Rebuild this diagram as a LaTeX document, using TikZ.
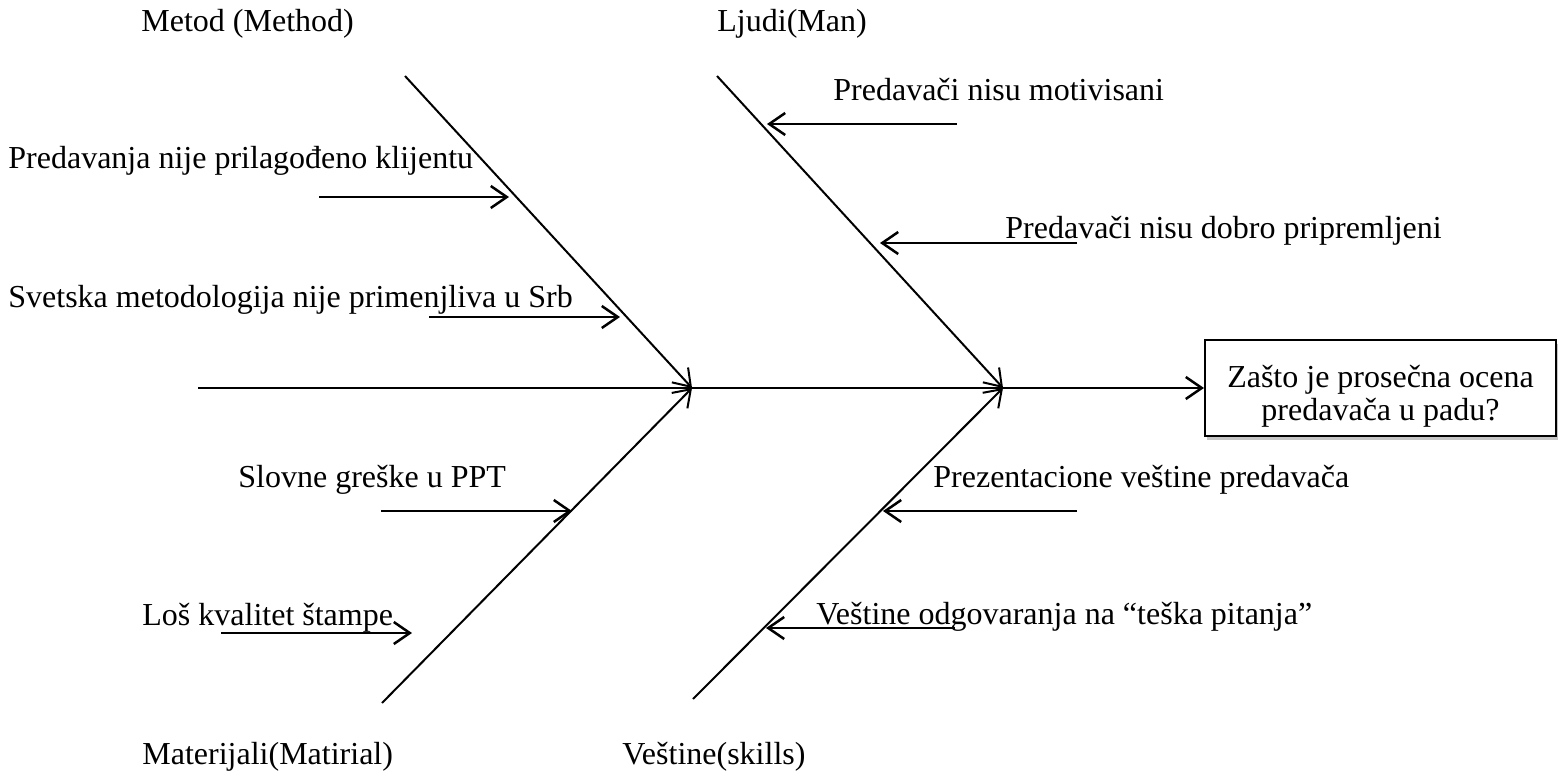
\documentclass[tikz,border=0pt]{standalone}
\usepackage{fontspec}
\setmainfont{Liberation Serif}
\usetikzlibrary{arrows.meta,shadows}

\begin{document}
\begin{tikzpicture}[x=0.5pt,y=-0.5pt,
    every node/.style={inner sep=0pt,anchor=base west,font=\fontsize{16}{16.5}\selectfont},
    bone/.style={line width=1pt,-{Straight Barb[length=8pt,width=11pt]}},
    cause/.style={line width=1.25pt,-{Straight Barb[length=8pt,width=11pt]}}]
  \useasboundingbox (0,0) rectangle (1559,771);

  %% effect box at the head of the fish
  \node[draw,line width=1pt,fill=white,anchor=center,align=center,
        drop shadow={shadow xshift=1pt,shadow yshift=-2pt,fill=black!45},
        minimum width=175.5pt,inner ysep=0pt,text height=40pt,text depth=8pt]
        (effect) at (1380.5,388) {Zašto je prosečna ocena\\predavača u padu?};

  %% spine and the four bones
  \coordinate (tail) at (198,388);
  \coordinate (jl) at (692,388);
  \coordinate (jr) at (1003,388);
  \coordinate (metod) at (405,76);
  \coordinate (ljudi) at (717,76);
  \coordinate (mater) at (382,703);
  \coordinate (vest) at (693,699);
  \draw[cause] (tail) -- (effect.west);
  \draw[bone] (metod) -- (jl);
  \draw[bone] (mater) -- (jl);
  \draw[bone] (ljudi) -- (jr);
  \draw[bone] (vest) -- (jr);

  \node (lmet) at (141,32) {Metod (Method)};
  \node (llju) at (717,32) {Ljudi(Man)};
  \node (lmat) at (142,764) {Materijali(Matirial)};
  \node (lves) at (622,764) {Veštine(skills)};

  %% causes
  \node (c1) at (8,168) {Predavanja nije prilagođeno klijentu};
  \node (c2) at (8,307) {Svetska metodologija nije primenjliva u Srb};
  \node (c3) at (833,100) {Predavači nisu motivisani};
  \node (c4) at (1005,238) {Predavači nisu dobro pripremljeni};
  \node (c5) at (238,487) {Slovne greške u PPT};
  \node (c6) at (142,625) {Loš kvalitet štampe};
  \node (c7) at (933,487) {Prezentacione veštine predavača};
  \node (c8) at (816,624) {Veštine odgovaranja na “teška pitanja”};

  \coordinate (c1s) at (319,197);  \coordinate (c1e) at (509,197);
  \coordinate (c2s) at (429,317);  \coordinate (c2e) at (620,317);
  \coordinate (c3s) at (957,124);  \coordinate (c3e) at (767,124);
  \coordinate (c4s) at (1077,243); \coordinate (c4e) at (880,243);
  \coordinate (c5s) at (381,511);  \coordinate (c5e) at (572,511);
  \coordinate (c6s) at (221,633);  \coordinate (c6e) at (412,633);
  \coordinate (c7s) at (1077,511); \coordinate (c7e) at (883,511);
  \coordinate (c8s) at (955,628);  \coordinate (c8e) at (766,628);
  \foreach \c in {c1,c2,c3,c4,c5,c6,c7,c8}
    \draw[cause] (\c s) -- (\c e);
\end{tikzpicture}
\end{document}
